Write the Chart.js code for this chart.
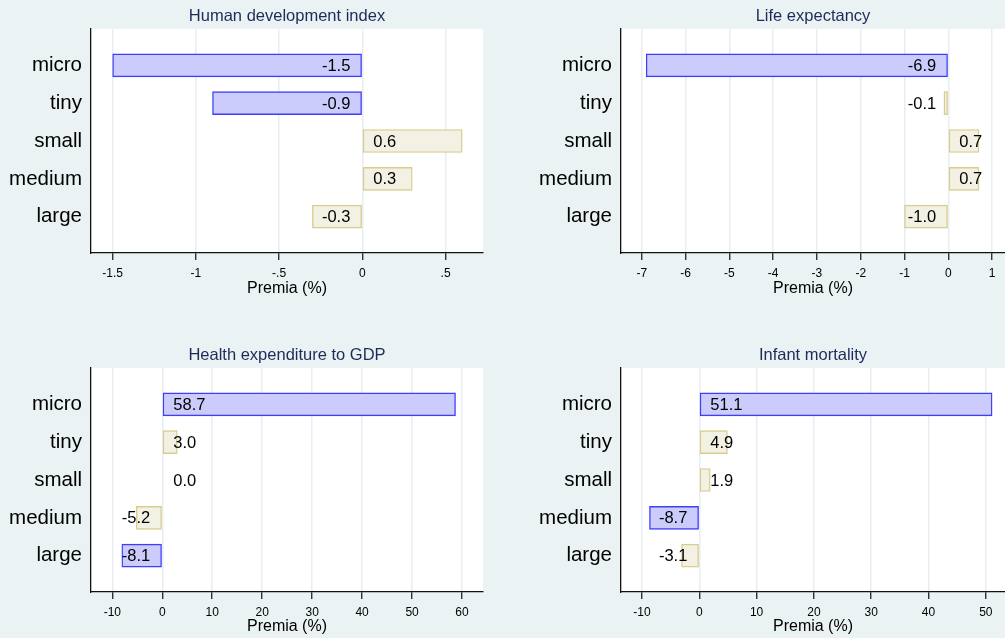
<!DOCTYPE html>
<html>
<head>
<meta charset="utf-8">
<script src="https://cdn.jsdelivr.net/npm/chart.js@4"></script>
<style>
  html, body { margin: 0; padding: 0; background: #eaf2f3; overflow: hidden; }
  canvas { position: absolute; }
  #c1 { left: 0; top: 0; }
  #c2 { left: 500px; top: 0; }
  #c3 { left: 0; top: 339px; }
  #c4 { left: 500px; top: 339px; }
</style>
</head>
<body>
<canvas id="c1" width="500" height="300"></canvas>
<canvas id="c2" width="505" height="300"></canvas>
<canvas id="c3" width="500" height="299"></canvas>
<canvas id="c4" width="505" height="299"></canvas>
<script>
var categories = ['micro', 'tiny', 'small', 'medium', 'large'];

// premia (%) per firm size, 1 = shown in blue (significant)
var hdi = [-1.5, -0.9, 0.6, 0.3, -0.3];
var hdiSig = [1, 1, 0, 0, 0];
var life = [-6.9, -0.1, 0.7, 0.7, -1.0];
var lifeSig = [1, 0, 0, 0, 0];
var health = [58.7, 3.0, 0.0, -5.2, -8.1];
var healthSig = [1, 0, 0, 0, 1];
var infant = [51.1, 4.9, 1.9, -8.7, -3.1];
var infantSig = [1, 0, 0, 1, 0];

var hdiTicks = [-1.5, -1, -0.5, 0, 0.5];
var hdiTickLabels = ['-1.5', '-1', '-.5', '0', '.5'];
var lifeTicks = [-7, -6, -5, -4, -3, -2, -1, 0, 1];
var lifeTickLabels = ['-7', '-6', '-5', '-4', '-3', '-2', '-1', '0', '1'];
var healthTicks = [-10, 0, 10, 20, 30, 40, 50, 60];
var healthTickLabels = ['-10', '0', '10', '20', '30', '40', '50', '60'];
var infantTicks = [-10, 0, 10, 20, 30, 40, 50];
var infantTickLabels = ['-10', '0', '10', '20', '30', '40', '50'];

Chart.defaults.font.family = '"Liberation Sans", Arial, sans-serif';

var blueFill = 'rgb(204,204,252)', blueLine = 'rgb(62,62,250)';
var sandFill = 'rgb(243,241,228)', sandLine = 'rgb(216,204,142)';

// white plot region
var plotBg = {
    id: 'plotBg',
    beforeDraw: function(chart) {
        var a = chart.chartArea;
        chart.ctx.save();
        chart.ctx.fillStyle = '#fff';
        chart.ctx.fillRect(a.left, a.top, a.right - a.left, a.bottom - a.top);
        chart.ctx.restore();
    }
};

// labels sit next to the zero line, like stata's "inside base"
var valueLabels = {
    id: 'valueLabels',
    afterDatasetsDraw: function(chart) {
        var ctx = chart.ctx;
        var zero = chart.scales.x.getPixelForValue(0);
        var meta = chart.getDatasetMeta(0);
        var data = chart.data.datasets[0].data;
        ctx.save();
        ctx.font = '16.5px "Liberation Sans", Arial, sans-serif';
        ctx.fillStyle = '#000';
        ctx.textBaseline = 'middle';
        meta.data.forEach(function(bar, i) {
            var v = data[i].x;
            if (v < 0) {
                ctx.textAlign = 'right';
                ctx.fillText(v.toFixed(1), zero - 12, bar.y + 1);
            } else {
                ctx.textAlign = 'left';
                ctx.fillText(v.toFixed(1), zero + 11, bar.y + 1);
            }
        });
        ctx.restore();
    }
};

function panel(id, title, values, sig, xmin, xmax, ticks, tickLabels, yWidth, rightPad, xHeight) {
    var points = values.map(function(v, i) { return {x: v, y: i + 1}; });
    new Chart(document.getElementById(id), {
        type: 'bar',
        data: {
            datasets: [{
                data: points,
                backgroundColor: sig.map(function(s) { return s ? blueFill : sandFill; }),
                borderColor: sig.map(function(s) { return s ? blueLine : sandLine; }),
                borderWidth: 1.4,
                borderSkipped: false,
                barThickness: 23
            }]
        },
        options: {
            indexAxis: 'y',
            responsive: false,
            animation: false,
            layout: { padding: { left: 0, right: rightPad, top: 0, bottom: 0 } },
            plugins: {
                legend: { display: false },
                tooltip: { enabled: false },
                title: {
                    display: true,
                    text: title,
                    fullSize: false,
                    color: '#1c2b5a',
                    font: { size: 16.5, weight: 'normal' },
                    padding: { top: 7, bottom: 2 }
                }
            },
            scales: {
                x: {
                    type: 'linear',
                    min: xmin,
                    max: xmax,
                    afterBuildTicks: function(s) {
                        s.ticks = ticks.map(function(v) { return {value: v}; });
                    },
                    afterFit: function(s) { s.height = xHeight; },
                    ticks: {
                        autoSkip: false,
                        maxRotation: 0,
                        padding: 6,
                        color: '#000',
                        font: { size: 12 },
                        callback: function(val, index) { return tickLabels[index]; }
                    },
                    grid: { color: '#e6eef2', lineWidth: 1.5, tickColor: '#111', tickLength: 7, tickWidth: 1.2 },
                    border: { color: '#111', width: 1.3 },
                    title: {
                        display: true,
                        text: 'Premia (%)',
                        color: '#000',
                        font: { size: 16 },
                        padding: { top: 2, bottom: 2 }
                    }
                },
                y: {
                    type: 'linear',
                    reverse: true,
                    offset: false,
                    min: 0.034,
                    max: 5.96,
                    afterBuildTicks: function(s) {
                        s.ticks = categories.map(function(c, i) { return {value: i + 1}; });
                    },
                    afterFit: function(s) { s.width = yWidth; },
                    ticks: {
                        autoSkip: false,
                        padding: 9,
                        color: '#000',
                        font: { size: 20.5 },
                        callback: function(val) { return categories[Math.round(val) - 1]; }
                    },
                    grid: { display: false, drawTicks: false },
                    border: { color: '#111', width: 1.3 }
                }
            }
        },
        plugins: [plotBg, valueLabels]
    });
}

panel('c1', 'Human development index', hdi, hdiSig, -1.63, 0.725, hdiTicks, hdiTickLabels, 91, 17, 47);
panel('c2', 'Life expectancy', life, lifeSig, -7.475, 1.295, lifeTicks, lifeTickLabels, 121, 0, 47);
panel('c3', 'Health expenditure to GDP', health, healthSig, -14.27, 64.2, healthTicks, healthTickLabels, 91, 17, 46);
panel('c4', 'Infant mortality', infant, infantSig, -13.67, 53.35, infantTicks, infantTickLabels, 121, 0, 46);
</script>
</body>
</html>
